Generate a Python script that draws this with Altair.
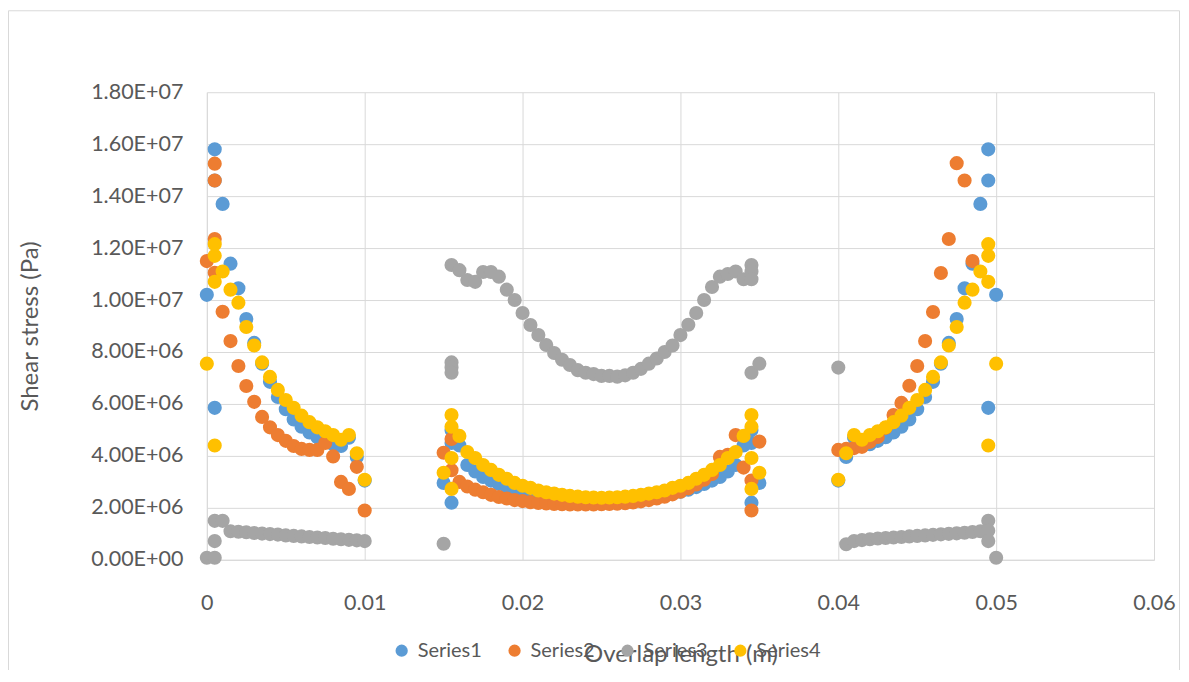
import altair as alt
import pandas as pd

series_names = ["Series1", "Series2", "Series3", "Series4"]
series_colors = ["#5B9BD5", "#ED7D31", "#A5A5A5", "#FFC000"]

x_ticks = [0, 0.01, 0.02, 0.03, 0.04, 0.05, 0.06]
y_ticks = [0, 2e6, 4e6, 6e6, 8e6, 1e7, 1.2e7, 1.4e7, 1.6e7, 1.8e7]

# x positions (m) of the node rows
grid_left = [0.001, 0.0015, 0.002, 0.0025, 0.003, 0.0035, 0.004, 0.0045, 0.005, 0.0055,
             0.006, 0.0065, 0.007, 0.0075, 0.008, 0.0085, 0.009, 0.0095, 0.01]
grid_mid = [0.016, 0.0165, 0.017, 0.0175, 0.018, 0.0185, 0.019, 0.0195, 0.02, 0.0205,
            0.021, 0.0215, 0.022, 0.0225, 0.023, 0.0235, 0.024, 0.0245, 0.025, 0.0255,
            0.026, 0.0265, 0.027, 0.0275, 0.028, 0.0285, 0.029, 0.0295, 0.03, 0.0305,
            0.031, 0.0315, 0.032, 0.0325, 0.033, 0.0335, 0.034]
grid_right = [0.0405, 0.041, 0.0415, 0.042, 0.0425, 0.043, 0.0435, 0.044, 0.0445, 0.045,
              0.0455, 0.046, 0.0465, 0.047, 0.0475, 0.048, 0.0485, 0.049]

# Series1 (shear stress in MPa)
s1_x = ([0] + [0.0005] * 3 + grid_left
        + [0.015] + [0.0155] * 3 + grid_mid + [0.0345] * 3 + [0.035]
        + [0.04] + grid_right + [0.0495] * 3 + [0.05])
s1_y = ([10.2, 15.8, 14.6, 5.85,
         13.7, 11.4, 10.45, 9.27, 8.35, 7.55, 6.85, 6.27, 5.8, 5.4, 5.12, 4.9, 4.72, 4.58, 4.45, 4.38, 4.7, 3.96, 3.05]
        + [2.96, 5.0, 4.5, 2.2,
           4.4, 3.65, 3.4, 3.19, 3.05, 2.92, 2.8, 2.7, 2.62, 2.55, 2.5, 2.45, 2.42, 2.39, 2.37, 2.35, 2.34, 2.33, 2.33,
           2.33, 2.34, 2.35, 2.37, 2.39, 2.42, 2.45, 2.5, 2.55, 2.62, 2.7, 2.8, 2.92, 3.05, 3.19, 3.4, 3.65, 4.4,
           5.0, 4.5, 2.2, 2.96]
        + [3.05,
           3.96, 4.7, 4.38, 4.45, 4.58, 4.72, 4.9, 5.12, 5.4, 5.8, 6.27, 6.85, 7.55, 8.35, 9.27, 10.45, 11.4, 13.7,
           15.8, 14.6, 5.85, 10.2])

# Series2
s2_x = ([0] + [0.0005] * 4 + grid_left
        + [0.015] + [0.0155] * 2 + grid_mid + [0.0345] * 2 + [0.035]
        + [0.04, 0.0405, 0.041, 0.0415, 0.042, 0.0425, 0.043, 0.0435, 0.044, 0.0445,
           0.045, 0.0455, 0.046, 0.0465, 0.047, 0.0475, 0.048, 0.0485])
s2_y = ([11.5, 15.25, 14.6, 12.35, 11.05,
         9.55, 8.42, 7.46, 6.69, 6.08, 5.5, 5.1, 4.8, 4.58, 4.38, 4.27, 4.23, 4.23, 4.5, 3.98, 3.0, 2.73, 3.58, 1.9]
        + [4.12, 4.65, 3.45,
           3.0, 2.82, 2.7, 2.6, 2.5, 2.42, 2.36, 2.3, 2.26, 2.22, 2.19, 2.17, 2.15, 2.14, 2.13, 2.13, 2.13, 2.13,
           2.14, 2.15, 2.16, 2.18, 2.21, 2.25, 2.3, 2.36, 2.43, 2.52, 2.62, 2.75, 2.9, 3.08, 3.3, 3.96, 4.04, 4.8, 3.55,
           3.05, 1.9, 4.55]
        + [4.23, 4.27, 4.3, 4.35, 4.54, 4.73, 5.08, 5.57, 6.04, 6.7, 7.46, 8.42, 9.54, 11.04, 12.35, 15.27, 14.6, 11.5])

# Series3
s3_x = ([0] + [0.0005] * 3 + grid_left
        + [0.015] + [0.0155] * 4 + grid_mid + [0.0345] * 4 + [0.035]
        + [0.04] + grid_right + [0.0495] * 3 + [0.05])
s3_y = ([0.08, 1.5, 0.72, 0.08,
         1.5, 1.1, 1.08, 1.06, 1.03, 1.01, 0.99, 0.97, 0.94, 0.92, 0.9, 0.88, 0.86, 0.84, 0.81, 0.79, 0.77, 0.75, 0.72]
        + [0.62, 11.35, 7.6, 7.4, 7.2,
           11.15, 10.77, 10.7, 11.08, 11.08, 10.9, 10.4, 10.0, 9.5, 9.04, 8.65, 8.27, 7.96, 7.7, 7.5, 7.3, 7.2, 7.15,
           7.08, 7.08, 7.05, 7.1, 7.2, 7.35, 7.55, 7.75, 8.0, 8.25, 8.65, 9.05, 9.5, 10.0, 10.5, 10.9, 11.0, 11.1, 10.8,
           11.35, 11.1, 10.8, 7.2, 7.55]
        + [7.4,
           0.6, 0.72, 0.76, 0.79, 0.82, 0.84, 0.86, 0.88, 0.9, 0.92, 0.94, 0.96, 0.98, 1.0, 1.02, 1.04, 1.07, 1.1,
           1.5, 1.12, 0.72, 0.08])

# Series4
s4_x = ([0] + [0.0005] * 4 + grid_left
        + [0.015] + [0.0155] * 4 + grid_mid + [0.0345] * 4 + [0.035]
        + [0.04] + grid_right + [0.0495] * 4 + [0.05])
s4_y = ([7.55, 12.15, 11.7, 10.7, 4.4,
         11.1, 10.4, 9.9, 8.96, 8.25, 7.6, 7.04, 6.54, 6.15, 5.85, 5.55, 5.3, 5.1, 4.95, 4.8, 4.62, 4.8, 4.1, 3.08]
        + [3.35, 5.57, 5.12, 3.92, 2.73,
           4.77, 4.15, 3.92, 3.65, 3.46, 3.27, 3.12, 2.96, 2.85, 2.77, 2.67, 2.6, 2.55, 2.5, 2.46, 2.43, 2.41, 2.4, 2.39,
           2.4, 2.41, 2.43, 2.46, 2.5, 2.55, 2.6, 2.67, 2.77, 2.85, 2.96, 3.12, 3.27, 3.46, 3.65, 3.92, 4.15, 4.77,
           5.57, 5.12, 3.92, 2.73, 3.35]
        + [3.08,
           4.1, 4.8, 4.62, 4.8, 4.95, 5.1, 5.3, 5.55, 5.85, 6.15, 6.54, 7.04, 7.6, 8.25, 8.96, 9.9, 10.4, 11.1,
           12.15, 11.7, 10.7, 4.4, 7.55])

rows = []
for name, xs, ys in zip(series_names, [s1_x, s2_x, s3_x, s4_x], [s1_y, s2_y, s3_y, s4_y]):
    assert len(xs) == len(ys), (name, len(xs), len(ys))
    for xv, yv in zip(xs, ys):
        rows.append({"x": xv, "y": yv * 1e6, "series": name})
df = pd.DataFrame(rows)

FONT = "Lato"
TEXT = "#595959"
GRID = "#d9d9d9"

y_label = ("datum.value >= 1e7 ? format(datum.value / 1e7, '.2f') + 'E+07' : "
           "(datum.value > 0 ? format(datum.value / 1e6, '.2f') + 'E+06' : '0.00E+00')")

points = alt.Chart(df).mark_circle(size=200, opacity=1).encode(
    x=alt.X("x:Q",
            scale=alt.Scale(domain=[0, 0.06], nice=False, zero=False),
            axis=alt.Axis(values=x_ticks, format=".2~f", title="Overlap length (m)",
                          labelFlush=False, labelPadding=33, titlePadding=28)),
    y=alt.Y("y:Q",
            scale=alt.Scale(domain=[0, 1.8e7], nice=False),
            axis=alt.Axis(values=y_ticks, labelExpr=y_label, title="Shear stress (Pa)",
                          labelFlush=False, labelPadding=24, titlePadding=48)),
    color=alt.Color("series:N",
                    scale=alt.Scale(domain=series_names, range=series_colors),
                    legend=alt.Legend(orient="none", legendX=185, legendY=549,
                                      direction="horizontal", title=None,
                                      symbolType="circle", symbolSize=150,
                                      symbolStrokeWidth=0, symbolOpacity=1,
                                      labelFont=FONT, labelFontSize=20, labelColor=TEXT,
                                      labelOffset=6, columnPadding=22, padding=0)),
)

frame = alt.Chart(pd.DataFrame({"k": [0]})).mark_rect(
    fillOpacity=0, stroke=GRID, strokeWidth=1
).encode(
    x=alt.value(-198.5), x2=alt.value(973.5), y=alt.value(-81.5), y2=alt.value(700)
)

chart = alt.layer(frame, points).properties(
    width=948, height=468,
    autosize=alt.AutoSizeParams(type="none"),
    padding={"left": 199, "top": 84, "right": 27, "bottom": 110},
    background="white",
).configure_view(strokeWidth=0).configure_axis(
    grid=True, gridColor=GRID, domainColor=GRID, ticks=False, tickSize=0,
    labelFont=FONT, labelFontSize=21.5, labelColor=TEXT,
    titleFont=FONT, titleFontSize=24, titleFontWeight="normal", titleColor=TEXT,
)

chart.save("out.html", embed_options={"renderer": "svg", "actions": False})
